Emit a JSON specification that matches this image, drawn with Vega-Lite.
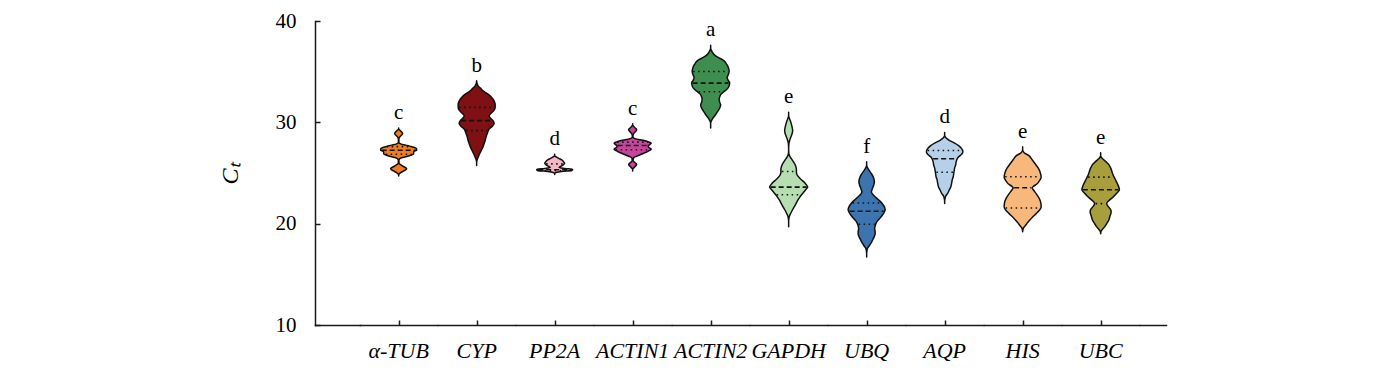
{
"$schema": "https://vega.github.io/schema/vega-lite/v6.json",
"padding": {"left": 218, "top": 10, "right": 5, "bottom": 5},
"background": "white",
"config": {
  "view": {"stroke": null},
  "axis": {"grid": false, "domainColor": "#1a1a1a", "tickColor": "#1a1a1a", "labelColor": "#000", "titleColor": "#000", "labelFont": "Liberation Serif", "titleFont": "Liberation Serif", "domainWidth": 1.5, "tickWidth": 1.5, "domainCap": "square"},
  "text": {"font": "Liberation Serif"}
},
"data": {"values": [
{"gene":"α-TUB","kind":"o","ct":29.45,"w":0},{"gene":"α-TUB","kind":"o","ct":29.35,"w":0},{"gene":"α-TUB","kind":"o","ct":29.2,"w":3},{"gene":"α-TUB","kind":"o","ct":29.05,"w":6},{"gene":"α-TUB","kind":"o","ct":28.9,"w":8},{"gene":"α-TUB","kind":"o","ct":28.75,"w":6},{"gene":"α-TUB","kind":"o","ct":28.6,"w":3},{"gene":"α-TUB","kind":"o","ct":28.45,"w":1},{"gene":"α-TUB","kind":"o","ct":28.3,"w":0.5},{"gene":"α-TUB","kind":"o","ct":28.0,"w":0.5},{"gene":"α-TUB","kind":"o","ct":27.85,"w":5},{"gene":"α-TUB","kind":"o","ct":27.75,"w":14},{"gene":"α-TUB","kind":"o","ct":27.65,"w":22},{"gene":"α-TUB","kind":"o","ct":27.55,"w":30},{"gene":"α-TUB","kind":"o","ct":27.45,"w":35},{"gene":"α-TUB","kind":"o","ct":27.35,"w":36},{"gene":"α-TUB","kind":"o","ct":27.25,"w":36},{"gene":"α-TUB","kind":"o","ct":27.15,"w":31},{"gene":"α-TUB","kind":"o","ct":27.05,"w":30},{"gene":"α-TUB","kind":"o","ct":26.9,"w":30},{"gene":"α-TUB","kind":"o","ct":26.75,"w":24},{"gene":"α-TUB","kind":"o","ct":26.6,"w":14},{"gene":"α-TUB","kind":"o","ct":26.5,"w":6},{"gene":"α-TUB","kind":"o","ct":26.4,"w":2},{"gene":"α-TUB","kind":"o","ct":26.2,"w":0.5},{"gene":"α-TUB","kind":"o","ct":25.95,"w":1},{"gene":"α-TUB","kind":"o","ct":25.75,"w":6},{"gene":"α-TUB","kind":"o","ct":25.55,"w":13},{"gene":"α-TUB","kind":"o","ct":25.45,"w":16},{"gene":"α-TUB","kind":"o","ct":25.35,"w":15},{"gene":"α-TUB","kind":"o","ct":25.2,"w":10},{"gene":"α-TUB","kind":"o","ct":25.05,"w":5},{"gene":"α-TUB","kind":"o","ct":24.9,"w":1},{"gene":"α-TUB","kind":"o","ct":24.8,"w":0},{"gene":"α-TUB","kind":"o","ct":24.7,"w":0},
{"gene":"CYP","kind":"o","ct":34.1,"w":0},{"gene":"CYP","kind":"o","ct":33.8,"w":1},{"gene":"CYP","kind":"o","ct":33.6,"w":3},{"gene":"CYP","kind":"o","ct":33.35,"w":8},{"gene":"CYP","kind":"o","ct":33.1,"w":13},{"gene":"CYP","kind":"o","ct":32.8,"w":22},{"gene":"CYP","kind":"o","ct":32.45,"w":30},{"gene":"CYP","kind":"o","ct":32.1,"w":35},{"gene":"CYP","kind":"o","ct":31.8,"w":37},{"gene":"CYP","kind":"o","ct":31.5,"w":37},{"gene":"CYP","kind":"o","ct":31.2,"w":35},{"gene":"CYP","kind":"o","ct":30.9,"w":29},{"gene":"CYP","kind":"o","ct":30.65,"w":25},{"gene":"CYP","kind":"o","ct":30.4,"w":28},{"gene":"CYP","kind":"o","ct":30.15,"w":33},{"gene":"CYP","kind":"o","ct":29.9,"w":35},{"gene":"CYP","kind":"o","ct":29.6,"w":31},{"gene":"CYP","kind":"o","ct":29.35,"w":25},{"gene":"CYP","kind":"o","ct":29.0,"w":22},{"gene":"CYP","kind":"o","ct":28.6,"w":19},{"gene":"CYP","kind":"o","ct":28.2,"w":17},{"gene":"CYP","kind":"o","ct":27.9,"w":15},{"gene":"CYP","kind":"o","ct":27.5,"w":12},{"gene":"CYP","kind":"o","ct":27.2,"w":9},{"gene":"CYP","kind":"o","ct":26.9,"w":6},{"gene":"CYP","kind":"o","ct":26.55,"w":3},{"gene":"CYP","kind":"o","ct":26.3,"w":1},{"gene":"CYP","kind":"o","ct":26.0,"w":0},{"gene":"CYP","kind":"o","ct":25.75,"w":0},
{"gene":"PP2A","kind":"o","ct":26.85,"w":0},{"gene":"PP2A","kind":"o","ct":26.7,"w":0},{"gene":"PP2A","kind":"o","ct":26.6,"w":3},{"gene":"PP2A","kind":"o","ct":26.45,"w":8},{"gene":"PP2A","kind":"o","ct":26.3,"w":14},{"gene":"PP2A","kind":"o","ct":26.1,"w":18},{"gene":"PP2A","kind":"o","ct":25.95,"w":20},{"gene":"PP2A","kind":"o","ct":25.8,"w":17},{"gene":"PP2A","kind":"o","ct":25.65,"w":12},{"gene":"PP2A","kind":"o","ct":25.55,"w":9},{"gene":"PP2A","kind":"o","ct":25.45,"w":20},{"gene":"PP2A","kind":"o","ct":25.35,"w":36},{"gene":"PP2A","kind":"o","ct":25.25,"w":34},{"gene":"PP2A","kind":"o","ct":25.15,"w":14},{"gene":"PP2A","kind":"o","ct":25.05,"w":3},{"gene":"PP2A","kind":"o","ct":24.95,"w":0},{"gene":"PP2A","kind":"o","ct":24.85,"w":0},
{"gene":"ACTIN1","kind":"o","ct":29.85,"w":0},{"gene":"ACTIN1","kind":"o","ct":29.75,"w":0},{"gene":"ACTIN1","kind":"o","ct":29.6,"w":2},{"gene":"ACTIN1","kind":"o","ct":29.45,"w":5},{"gene":"ACTIN1","kind":"o","ct":29.28,"w":8},{"gene":"ACTIN1","kind":"o","ct":29.1,"w":6},{"gene":"ACTIN1","kind":"o","ct":28.95,"w":3},{"gene":"ACTIN1","kind":"o","ct":28.8,"w":1},{"gene":"ACTIN1","kind":"o","ct":28.6,"w":0.5},{"gene":"ACTIN1","kind":"o","ct":28.45,"w":2},{"gene":"ACTIN1","kind":"o","ct":28.3,"w":12},{"gene":"ACTIN1","kind":"o","ct":28.2,"w":23},{"gene":"ACTIN1","kind":"o","ct":28.05,"w":33},{"gene":"ACTIN1","kind":"o","ct":27.94,"w":37},{"gene":"ACTIN1","kind":"o","ct":27.8,"w":34},{"gene":"ACTIN1","kind":"o","ct":27.65,"w":31},{"gene":"ACTIN1","kind":"o","ct":27.5,"w":33},{"gene":"ACTIN1","kind":"o","ct":27.35,"w":37},{"gene":"ACTIN1","kind":"o","ct":27.2,"w":33},{"gene":"ACTIN1","kind":"o","ct":27.05,"w":27},{"gene":"ACTIN1","kind":"o","ct":26.95,"w":22},{"gene":"ACTIN1","kind":"o","ct":26.8,"w":15},{"gene":"ACTIN1","kind":"o","ct":26.65,"w":8},{"gene":"ACTIN1","kind":"o","ct":26.55,"w":3},{"gene":"ACTIN1","kind":"o","ct":26.4,"w":1},{"gene":"ACTIN1","kind":"o","ct":26.2,"w":1},{"gene":"ACTIN1","kind":"o","ct":26.05,"w":4},{"gene":"ACTIN1","kind":"o","ct":25.85,"w":8},{"gene":"ACTIN1","kind":"o","ct":25.65,"w":5},{"gene":"ACTIN1","kind":"o","ct":25.5,"w":2},{"gene":"ACTIN1","kind":"o","ct":25.35,"w":0},{"gene":"ACTIN1","kind":"o","ct":25.2,"w":0},
{"gene":"ACTIN2","kind":"o","ct":37.6,"w":0},{"gene":"ACTIN2","kind":"o","ct":37.3,"w":0},{"gene":"ACTIN2","kind":"o","ct":37.05,"w":2},{"gene":"ACTIN2","kind":"o","ct":36.8,"w":5},{"gene":"ACTIN2","kind":"o","ct":36.56,"w":10},{"gene":"ACTIN2","kind":"o","ct":36.3,"w":19},{"gene":"ACTIN2","kind":"o","ct":36.07,"w":27},{"gene":"ACTIN2","kind":"o","ct":35.8,"w":31},{"gene":"ACTIN2","kind":"o","ct":35.58,"w":34},{"gene":"ACTIN2","kind":"o","ct":35.3,"w":36},{"gene":"ACTIN2","kind":"o","ct":35.08,"w":37},{"gene":"ACTIN2","kind":"o","ct":34.8,"w":36},{"gene":"ACTIN2","kind":"o","ct":34.42,"w":33},{"gene":"ACTIN2","kind":"o","ct":34.15,"w":35},{"gene":"ACTIN2","kind":"o","ct":33.93,"w":38},{"gene":"ACTIN2","kind":"o","ct":33.6,"w":37},{"gene":"ACTIN2","kind":"o","ct":33.28,"w":33},{"gene":"ACTIN2","kind":"o","ct":33.0,"w":26},{"gene":"ACTIN2","kind":"o","ct":32.79,"w":21},{"gene":"ACTIN2","kind":"o","ct":32.5,"w":18},{"gene":"ACTIN2","kind":"o","ct":32.3,"w":17},{"gene":"ACTIN2","kind":"o","ct":32.0,"w":18},{"gene":"ACTIN2","kind":"o","ct":31.7,"w":20},{"gene":"ACTIN2","kind":"o","ct":31.4,"w":18},{"gene":"ACTIN2","kind":"o","ct":31.0,"w":13},{"gene":"ACTIN2","kind":"o","ct":30.7,"w":9},{"gene":"ACTIN2","kind":"o","ct":30.45,"w":5},{"gene":"ACTIN2","kind":"o","ct":30.2,"w":2},{"gene":"ACTIN2","kind":"o","ct":29.9,"w":0},{"gene":"ACTIN2","kind":"o","ct":29.45,"w":0},
{"gene":"GAPDH","kind":"o","ct":31.0,"w":0},{"gene":"GAPDH","kind":"o","ct":30.7,"w":0},{"gene":"GAPDH","kind":"o","ct":30.45,"w":1},{"gene":"GAPDH","kind":"o","ct":30.2,"w":3},{"gene":"GAPDH","kind":"o","ct":29.9,"w":5},{"gene":"GAPDH","kind":"o","ct":29.5,"w":7},{"gene":"GAPDH","kind":"o","ct":29.2,"w":8},{"gene":"GAPDH","kind":"o","ct":28.9,"w":7},{"gene":"GAPDH","kind":"o","ct":28.5,"w":4},{"gene":"GAPDH","kind":"o","ct":28.2,"w":2},{"gene":"GAPDH","kind":"o","ct":27.9,"w":0.5},{"gene":"GAPDH","kind":"o","ct":27.3,"w":0},{"gene":"GAPDH","kind":"o","ct":26.9,"w":0.5},{"gene":"GAPDH","kind":"o","ct":26.6,"w":3},{"gene":"GAPDH","kind":"o","ct":26.3,"w":7},{"gene":"GAPDH","kind":"o","ct":26.0,"w":11},{"gene":"GAPDH","kind":"o","ct":25.7,"w":14},{"gene":"GAPDH","kind":"o","ct":25.4,"w":15.5},{"gene":"GAPDH","kind":"o","ct":25.1,"w":15.5},{"gene":"GAPDH","kind":"o","ct":24.8,"w":17},{"gene":"GAPDH","kind":"o","ct":24.5,"w":22},{"gene":"GAPDH","kind":"o","ct":24.27,"w":27},{"gene":"GAPDH","kind":"o","ct":24.0,"w":33},{"gene":"GAPDH","kind":"o","ct":23.8,"w":36},{"gene":"GAPDH","kind":"o","ct":23.61,"w":38},{"gene":"GAPDH","kind":"o","ct":23.4,"w":35},{"gene":"GAPDH","kind":"o","ct":23.1,"w":30},{"gene":"GAPDH","kind":"o","ct":22.8,"w":25},{"gene":"GAPDH","kind":"o","ct":22.6,"w":22},{"gene":"GAPDH","kind":"o","ct":22.3,"w":18},{"gene":"GAPDH","kind":"o","ct":22.0,"w":15},{"gene":"GAPDH","kind":"o","ct":21.65,"w":11},{"gene":"GAPDH","kind":"o","ct":21.3,"w":7},{"gene":"GAPDH","kind":"o","ct":21.0,"w":4},{"gene":"GAPDH","kind":"o","ct":20.8,"w":2},{"gene":"GAPDH","kind":"o","ct":20.5,"w":0.5},{"gene":"GAPDH","kind":"o","ct":20.2,"w":0},{"gene":"GAPDH","kind":"o","ct":19.7,"w":0},
{"gene":"UBQ","kind":"o","ct":26.1,"w":0},{"gene":"UBQ","kind":"o","ct":25.8,"w":0},{"gene":"UBQ","kind":"o","ct":25.5,"w":2},{"gene":"UBQ","kind":"o","ct":25.25,"w":5},{"gene":"UBQ","kind":"o","ct":24.9,"w":10},{"gene":"UBQ","kind":"o","ct":24.5,"w":14},{"gene":"UBQ","kind":"o","ct":24.1,"w":15.5},{"gene":"UBQ","kind":"o","ct":23.8,"w":14},{"gene":"UBQ","kind":"o","ct":23.4,"w":11},{"gene":"UBQ","kind":"o","ct":23.12,"w":9.5},{"gene":"UBQ","kind":"o","ct":22.9,"w":12},{"gene":"UBQ","kind":"o","ct":22.6,"w":18},{"gene":"UBQ","kind":"o","ct":22.3,"w":25},{"gene":"UBQ","kind":"o","ct":22.0,"w":31},{"gene":"UBQ","kind":"o","ct":21.7,"w":35},{"gene":"UBQ","kind":"o","ct":21.4,"w":37},{"gene":"UBQ","kind":"o","ct":21.1,"w":35},{"gene":"UBQ","kind":"o","ct":20.8,"w":31},{"gene":"UBQ","kind":"o","ct":20.5,"w":26},{"gene":"UBQ","kind":"o","ct":20.3,"w":22},{"gene":"UBQ","kind":"o","ct":20.05,"w":19},{"gene":"UBQ","kind":"o","ct":19.8,"w":17},{"gene":"UBQ","kind":"o","ct":19.5,"w":16},{"gene":"UBQ","kind":"o","ct":19.2,"w":17},{"gene":"UBQ","kind":"o","ct":19.0,"w":17},{"gene":"UBQ","kind":"o","ct":18.7,"w":15},{"gene":"UBQ","kind":"o","ct":18.4,"w":12},{"gene":"UBQ","kind":"o","ct":18.1,"w":9},{"gene":"UBQ","kind":"o","ct":17.8,"w":5},{"gene":"UBQ","kind":"o","ct":17.6,"w":2},{"gene":"UBQ","kind":"o","ct":17.3,"w":0.5},{"gene":"UBQ","kind":"o","ct":17.0,"w":0},{"gene":"UBQ","kind":"o","ct":16.7,"w":0},
{"gene":"AQP","kind":"o","ct":29.0,"w":0},{"gene":"AQP","kind":"o","ct":28.7,"w":0},{"gene":"AQP","kind":"o","ct":28.45,"w":3},{"gene":"AQP","kind":"o","ct":28.2,"w":10},{"gene":"AQP","kind":"o","ct":27.95,"w":20},{"gene":"AQP","kind":"o","ct":27.7,"w":28},{"gene":"AQP","kind":"o","ct":27.4,"w":34},{"gene":"AQP","kind":"o","ct":27.1,"w":36.5},{"gene":"AQP","kind":"o","ct":26.85,"w":34},{"gene":"AQP","kind":"o","ct":26.6,"w":28},{"gene":"AQP","kind":"o","ct":26.4,"w":25},{"gene":"AQP","kind":"o","ct":26.1,"w":23},{"gene":"AQP","kind":"o","ct":25.8,"w":22},{"gene":"AQP","kind":"o","ct":25.5,"w":20},{"gene":"AQP","kind":"o","ct":25.2,"w":19},{"gene":"AQP","kind":"o","ct":24.9,"w":18},{"gene":"AQP","kind":"o","ct":24.6,"w":17},{"gene":"AQP","kind":"o","ct":24.3,"w":15},{"gene":"AQP","kind":"o","ct":24.0,"w":14},{"gene":"AQP","kind":"o","ct":23.6,"w":12},{"gene":"AQP","kind":"o","ct":23.3,"w":9},{"gene":"AQP","kind":"o","ct":23.0,"w":6},{"gene":"AQP","kind":"o","ct":22.7,"w":2},{"gene":"AQP","kind":"o","ct":22.4,"w":0.5},{"gene":"AQP","kind":"o","ct":22.2,"w":0},{"gene":"AQP","kind":"o","ct":22.0,"w":0},
{"gene":"HIS","kind":"o","ct":27.6,"w":0},{"gene":"HIS","kind":"o","ct":27.3,"w":0},{"gene":"HIS","kind":"o","ct":27.0,"w":3},{"gene":"HIS","kind":"o","ct":26.73,"w":12},{"gene":"HIS","kind":"o","ct":26.3,"w":19},{"gene":"HIS","kind":"o","ct":25.91,"w":25},{"gene":"HIS","kind":"o","ct":25.5,"w":31},{"gene":"HIS","kind":"o","ct":25.08,"w":35},{"gene":"HIS","kind":"o","ct":24.59,"w":37},{"gene":"HIS","kind":"o","ct":24.2,"w":33},{"gene":"HIS","kind":"o","ct":23.94,"w":29},{"gene":"HIS","kind":"o","ct":23.7,"w":22},{"gene":"HIS","kind":"o","ct":23.55,"w":19},{"gene":"HIS","kind":"o","ct":23.3,"w":22},{"gene":"HIS","kind":"o","ct":22.96,"w":27},{"gene":"HIS","kind":"o","ct":22.5,"w":33},{"gene":"HIS","kind":"o","ct":22.13,"w":36},{"gene":"HIS","kind":"o","ct":21.64,"w":37},{"gene":"HIS","kind":"o","ct":21.3,"w":33},{"gene":"HIS","kind":"o","ct":20.99,"w":27},{"gene":"HIS","kind":"o","ct":20.65,"w":20},{"gene":"HIS","kind":"o","ct":20.33,"w":14},{"gene":"HIS","kind":"o","ct":20.05,"w":9},{"gene":"HIS","kind":"o","ct":19.84,"w":6},{"gene":"HIS","kind":"o","ct":19.6,"w":2},{"gene":"HIS","kind":"o","ct":19.4,"w":0.5},{"gene":"HIS","kind":"o","ct":19.2,"w":0},
{"gene":"UBC","kind":"o","ct":27.0,"w":0},{"gene":"UBC","kind":"o","ct":26.7,"w":0},{"gene":"UBC","kind":"o","ct":26.4,"w":4},{"gene":"UBC","kind":"o","ct":26.1,"w":11},{"gene":"UBC","kind":"o","ct":25.91,"w":15},{"gene":"UBC","kind":"o","ct":25.5,"w":20},{"gene":"UBC","kind":"o","ct":25.08,"w":23},{"gene":"UBC","kind":"o","ct":24.8,"w":25},{"gene":"UBC","kind":"o","ct":24.59,"w":27},{"gene":"UBC","kind":"o","ct":24.2,"w":31},{"gene":"UBC","kind":"o","ct":23.78,"w":35},{"gene":"UBC","kind":"o","ct":23.35,"w":37.5},{"gene":"UBC","kind":"o","ct":23.0,"w":32},{"gene":"UBC","kind":"o","ct":22.63,"w":25},{"gene":"UBC","kind":"o","ct":22.3,"w":17},{"gene":"UBC","kind":"o","ct":21.98,"w":12},{"gene":"UBC","kind":"o","ct":21.7,"w":15},{"gene":"UBC","kind":"o","ct":21.4,"w":20},{"gene":"UBC","kind":"o","ct":21.15,"w":21},{"gene":"UBC","kind":"o","ct":20.8,"w":19},{"gene":"UBC","kind":"o","ct":20.33,"w":16},{"gene":"UBC","kind":"o","ct":20.0,"w":12},{"gene":"UBC","kind":"o","ct":19.68,"w":8},{"gene":"UBC","kind":"o","ct":19.4,"w":3},{"gene":"UBC","kind":"o","ct":19.2,"w":0.5},{"gene":"UBC","kind":"o","ct":19.0,"w":0},
{"gene":"α-TUB","kind":"q","ct":27.6,"w":24},{"gene":"α-TUB","kind":"med","ct":27.25,"w":34},{"gene":"α-TUB","kind":"q","ct":26.85,"w":26},
{"gene":"CYP","kind":"q","ct":31.48,"w":35},{"gene":"CYP","kind":"med","ct":30.17,"w":31},{"gene":"CYP","kind":"q","ct":29.18,"w":21},
{"gene":"PP2A","kind":"q","ct":25.9,"w":17},{"gene":"PP2A","kind":"med","ct":25.32,"w":33},{"gene":"PP2A","kind":"q","ct":25.22,"w":30},
{"gene":"ACTIN1","kind":"q","ct":28.05,"w":31},{"gene":"ACTIN1","kind":"med","ct":27.71,"w":30},{"gene":"ACTIN1","kind":"q","ct":27.3,"w":34},
{"gene":"ACTIN2","kind":"q","ct":35.01,"w":35},{"gene":"ACTIN2","kind":"med","ct":33.87,"w":36},{"gene":"ACTIN2","kind":"q","ct":33.02,"w":24},
{"gene":"GAPDH","kind":"q","ct":25.15,"w":13.5},{"gene":"GAPDH","kind":"med","ct":23.61,"w":36},{"gene":"GAPDH","kind":"q","ct":22.86,"w":24},
{"gene":"UBQ","kind":"q","ct":22.04,"w":28},{"gene":"UBQ","kind":"med","ct":21.22,"w":34},{"gene":"UBQ","kind":"q","ct":19.94,"w":16},
{"gene":"AQP","kind":"q","ct":27.22,"w":34},{"gene":"AQP","kind":"med","ct":26.4,"w":23},{"gene":"AQP","kind":"q","ct":25.08,"w":16.5},
{"gene":"HIS","kind":"q","ct":24.63,"w":35},{"gene":"HIS","kind":"med","ct":23.55,"w":17},{"gene":"HIS","kind":"q","ct":21.54,"w":34},
{"gene":"UBC","kind":"q","ct":24.59,"w":25},{"gene":"UBC","kind":"med","ct":23.35,"w":35.5},{"gene":"UBC","kind":"q","ct":21.98,"w":10}
]},
"spacing": 0,
"resolve": {"scale": {"x": "independent", "y": "independent", "color": "independent"}},
"hconcat": [
  {
    "width": 45, "height": 304,
    "mark": {"type": "point", "opacity": 0, "clip": true},
    "encoding": {
      "x": {"field": "w", "type": "quantitative", "scale": {"domain": [0, 40], "nice": false, "zero": false}, "axis": {"ticks": false, "labels": false, "title": null, "domain": true}},
      "y": {"field": "ct", "type": "quantitative", "scale": {"domain": [10, 40], "nice": false, "zero": false}, "axis": {"values": [10, 20, 30, 40], "tickSize": -5, "labelPadding": 24, "labelFontSize": 21, "title": "Cₜ", "titleFontSize": 24, "titleFontStyle": "italic", "titleFontWeight": "normal", "titlePadding": 33}}
    }
  },
  {
    "transform": [
      {"lookup": "gene", "from": {"data": {"values": [
        {"gene": "α-TUB", "letter": "c"}, {"gene": "CYP", "letter": "b"}, {"gene": "PP2A", "letter": "d"}, {"gene": "ACTIN1", "letter": "c"}, {"gene": "ACTIN2", "letter": "a"},
        {"gene": "GAPDH", "letter": "e"}, {"gene": "UBQ", "letter": "f"}, {"gene": "AQP", "letter": "d"}, {"gene": "HIS", "letter": "e"}, {"gene": "UBC", "letter": "e"}]},
        "key": "gene", "fields": ["letter"]}},
      {"stack": "w", "groupby": ["gene", "kind", "ct"], "offset": "center", "as": ["w0", "w1"]}
    ],
    "facet": {"column": {"field": "gene", "type": "nominal", "title": null,
      "sort": ["α-TUB", "CYP", "PP2A", "ACTIN1", "ACTIN2", "GAPDH", "UBQ", "AQP", "HIS", "UBC"],
      "header": {"labelOrient": "bottom", "labelFont": "Liberation Serif", "labelFontStyle": "italic", "labelFontWeight": "normal", "labelFontSize": 22, "labelColor": "#000", "labelPadding": 15, "labelBaseline": "top"}}},
    "spacing": 0,
    "spec": {
      "width": 77.3, "height": 304,
      "layer": [
        {
          "transform": [{"filter": "datum.kind == 'o'"}],
          "mark": {"type": "area", "orient": "horizontal", "interpolate": "monotone", "stroke": "#111", "strokeWidth": 1.5, "strokeJoin": "round"},
          "encoding": {
            "y": {"field": "ct", "type": "quantitative", "scale": {"domain": [10, 40], "nice": false, "zero": false}, "axis": null},
            "x": {"field": "w0", "type": "quantitative", "scale": {"domain": [-19.65, 57.65], "nice": false, "zero": false}, "axis": {"values": [19], "tickSize": -5, "labels": false, "title": null, "domain": true, "ticks": true}},
            "x2": {"field": "w1"},
            "color": {"field": "gene", "type": "nominal", "legend": null,
              "scale": {"domain": ["α-TUB", "CYP", "PP2A", "ACTIN1", "ACTIN2", "GAPDH", "UBQ", "AQP", "HIS", "UBC"],
                        "range": ["#F07C22", "#7F1014", "#F4B7C5", "#C6449A", "#3E8E50", "#B7DDB2", "#3C74B0", "#B7D0EA", "#F8B87C", "#A89E3C"]}}
          }
        },
        {
          "transform": [{"filter": "datum.kind == 'med'"}],
          "mark": {"type": "rule", "strokeDash": [5, 3], "strokeWidth": 1.6, "color": "#111"},
          "encoding": {
            "y": {"field": "ct", "type": "quantitative", "scale": {"domain": [10, 40], "nice": false, "zero": false}, "axis": null},
            "x": {"field": "w0", "type": "quantitative", "scale": {"domain": [-19.65, 57.65], "nice": false, "zero": false}, "axis": {"values": [19], "tickSize": -5, "labels": false, "title": null, "domain": true, "ticks": true}},
            "x2": {"field": "w1"}
          }
        },
        {
          "transform": [{"filter": "datum.kind == 'q'"}],
          "mark": {"type": "rule", "strokeDash": [1.5, 3.5], "strokeWidth": 1.6, "color": "#111"},
          "encoding": {
            "y": {"field": "ct", "type": "quantitative", "scale": {"domain": [10, 40], "nice": false, "zero": false}, "axis": null},
            "x": {"field": "w0", "type": "quantitative", "scale": {"domain": [-19.65, 57.65], "nice": false, "zero": false}, "axis": {"values": [19], "tickSize": -5, "labels": false, "title": null, "domain": true, "ticks": true}},
            "x2": {"field": "w1"}
          }
        },
        {
          "transform": [{"filter": "datum.kind == 'o'"}],
          "mark": {"type": "text", "baseline": "alphabetic", "dy": -9, "fontSize": 21, "font": "Liberation Serif", "color": "#000"},
          "encoding": {
            "y": {"aggregate": "max", "field": "ct", "type": "quantitative", "scale": {"domain": [10, 40], "nice": false, "zero": false}, "axis": null},
            "text": {"field": "letter", "type": "nominal"},
            "detail": {"field": "gene", "type": "nominal"}
          }
        }
      ]
    }
  },
  {
    "width": 26, "height": 304,
    "mark": {"type": "point", "opacity": 0, "clip": true},
    "encoding": {
      "x": {"field": "w", "type": "quantitative", "scale": {"domain": [0, 40], "nice": false, "zero": false}, "axis": {"ticks": false, "labels": false, "title": null, "domain": true}},
      "y": {"field": "ct", "type": "quantitative", "scale": {"domain": [10, 40], "nice": false, "zero": false}, "axis": null}
    }
  }
]
}
